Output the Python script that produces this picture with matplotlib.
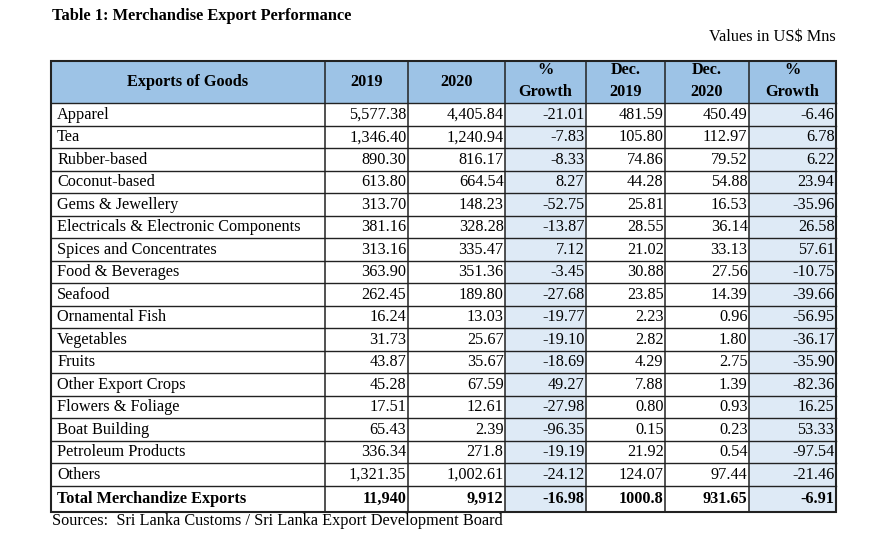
import numpy as np
import matplotlib
matplotlib.use("Agg")
import matplotlib.pyplot as plt
from matplotlib.patches import Rectangle

# Table data
headers = ["Exports of Goods", "2019", "2020", "%\nGrowth", "Dec.\n2019", "Dec.\n2020", "%\nGrowth"]
goods = ["Apparel", "Tea", "Rubber-based", "Coconut-based", "Gems & Jewellery",
         "Electricals & Electronic Components", "Spices and Concentrates", "Food & Beverages",
         "Seafood", "Ornamental Fish", "Vegetables", "Fruits", "Other Export Crops",
         "Flowers & Foliage", "Boat Building", "Petroleum Products", "Others"]
val_2019 = ["5,577.38", "1,346.40", "890.30", "613.80", "313.70", "381.16", "313.16", "363.90",
            "262.45", "16.24", "31.73", "43.87", "45.28", "17.51", "65.43", "336.34", "1,321.35"]
val_2020 = ["4,405.84", "1,240.94", "816.17", "664.54", "148.23", "328.28", "335.47", "351.36",
            "189.80", "13.03", "25.67", "35.67", "67.59", "12.61", "2.39", "271.8", "1,002.61"]
growth_year = ["-21.01", "-7.83", "-8.33", "8.27", "-52.75", "-13.87", "7.12", "-3.45",
               "-27.68", "-19.77", "-19.10", "-18.69", "49.27", "-27.98", "-96.35", "-19.19", "-24.12"]
dec_2019 = ["481.59", "105.80", "74.86", "44.28", "25.81", "28.55", "21.02", "30.88",
            "23.85", "2.23", "2.82", "4.29", "7.88", "0.80", "0.15", "21.92", "124.07"]
dec_2020 = ["450.49", "112.97", "79.52", "54.88", "16.53", "36.14", "33.13", "27.56",
            "14.39", "0.96", "1.80", "2.75", "1.39", "0.93", "0.23", "0.54", "97.44"]
growth_dec = ["-6.46", "6.78", "6.22", "23.94", "-35.96", "26.58", "57.61", "-10.75",
              "-39.66", "-56.95", "-36.17", "-35.90", "-82.36", "16.25", "53.33", "-97.54", "-21.46"]
total_row = ["Total Merchandize Exports", "11,940", "9,912", "-16.98", "1000.8", "931.65", "-6.91"]

title = "Table 1: Merchandise Export Performance"
unit_note = "Values in US$ Mns"
source_note = "Sources:  Sri Lanka Customs / Sri Lanka Export Development Board"

# Layout (pixel units)
col_edges = [51, 325, 408, 505, 586, 665, 749, 836]
header_top, header_bot = 61, 103
row_h = 22.5
total_h = 26
header_color = "#9DC3E6"
growth_color = "#DEEAF6"
growth_cols = [3, 6]
line_color = "#222222"
fs = 11.7

plt.rcParams['font.family'] = ['Liberation Serif', 'DejaVu Serif']

fig = plt.figure(figsize=(8.85, 5.4), dpi=100)
ax = fig.add_axes([0, 0, 1, 1])
ax.set_xlim(0, 885)
ax.set_ylim(540, 0)
ax.axis("off")

rows = [[goods[i], val_2019[i], val_2020[i], growth_year[i], dec_2019[i], dec_2020[i], growth_dec[i]]
        for i in range(len(goods))]
n = len(rows)
row_tops = [header_bot + i * row_h for i in range(n)]
total_top = header_bot + n * row_h
total_bot = total_top + total_h

# header band
ax.add_patch(Rectangle((col_edges[0], header_top), col_edges[-1] - col_edges[0],
                       header_bot - header_top, facecolor=header_color, edgecolor="none"))
# growth column shading
for c in growth_cols:
    ax.add_patch(Rectangle((col_edges[c], header_bot), col_edges[c + 1] - col_edges[c],
                           total_bot - header_bot, facecolor=growth_color, edgecolor="none"))

# header text
for c, h in enumerate(headers):
    xc = (col_edges[c] + col_edges[c + 1]) / 2
    lines = h.split("\n")
    if len(lines) == 1:
        ax.text(xc, (header_top + header_bot) / 2, h, ha="center", va="center",
                fontsize=fs, fontweight="bold")
    else:
        ax.text(xc, header_top + 9.5, lines[0], ha="center", va="center", fontsize=fs, fontweight="bold")
        ax.text(xc, header_top + 30.5, lines[1], ha="center", va="center", fontsize=fs, fontweight="bold")

# body rows
def draw_row(vals, top, h, bold=False):
    yc = top + h / 2 + 0.5
    w = "bold" if bold else "normal"
    ax.text(col_edges[0] + 6, yc, vals[0], ha="left", va="center", fontsize=fs, fontweight=w)
    for c in range(1, len(vals)):
        ax.text(col_edges[c + 1] - 1.5, yc, vals[c], ha="right", va="center", fontsize=fs, fontweight=w)

for i, r in enumerate(rows):
    draw_row(r, row_tops[i], row_h)
draw_row(total_row, total_top, total_h, bold=True)

# grid lines
for y in [header_bot] + row_tops[1:] + [total_top]:
    ax.plot([col_edges[0], col_edges[-1]], [y, y], color=line_color, lw=1.0)
for x in col_edges[1:-1]:
    ax.plot([x, x], [header_top, total_bot], color=line_color, lw=1.1)
ax.add_patch(Rectangle((col_edges[0], header_top), col_edges[-1] - col_edges[0],
                       total_bot - header_top, facecolor="none", edgecolor=line_color, lw=1.5))

# titles and notes
ax.text(52, 16, title, ha="left", va="center", fontsize=11.8, fontweight="bold")
ax.text(col_edges[-1], 37, unit_note, ha="right", va="center", fontsize=fs)
ax.text(52, 521, source_note, ha="left", va="center", fontsize=fs)

fig.savefig("out.png", dpi=100)
